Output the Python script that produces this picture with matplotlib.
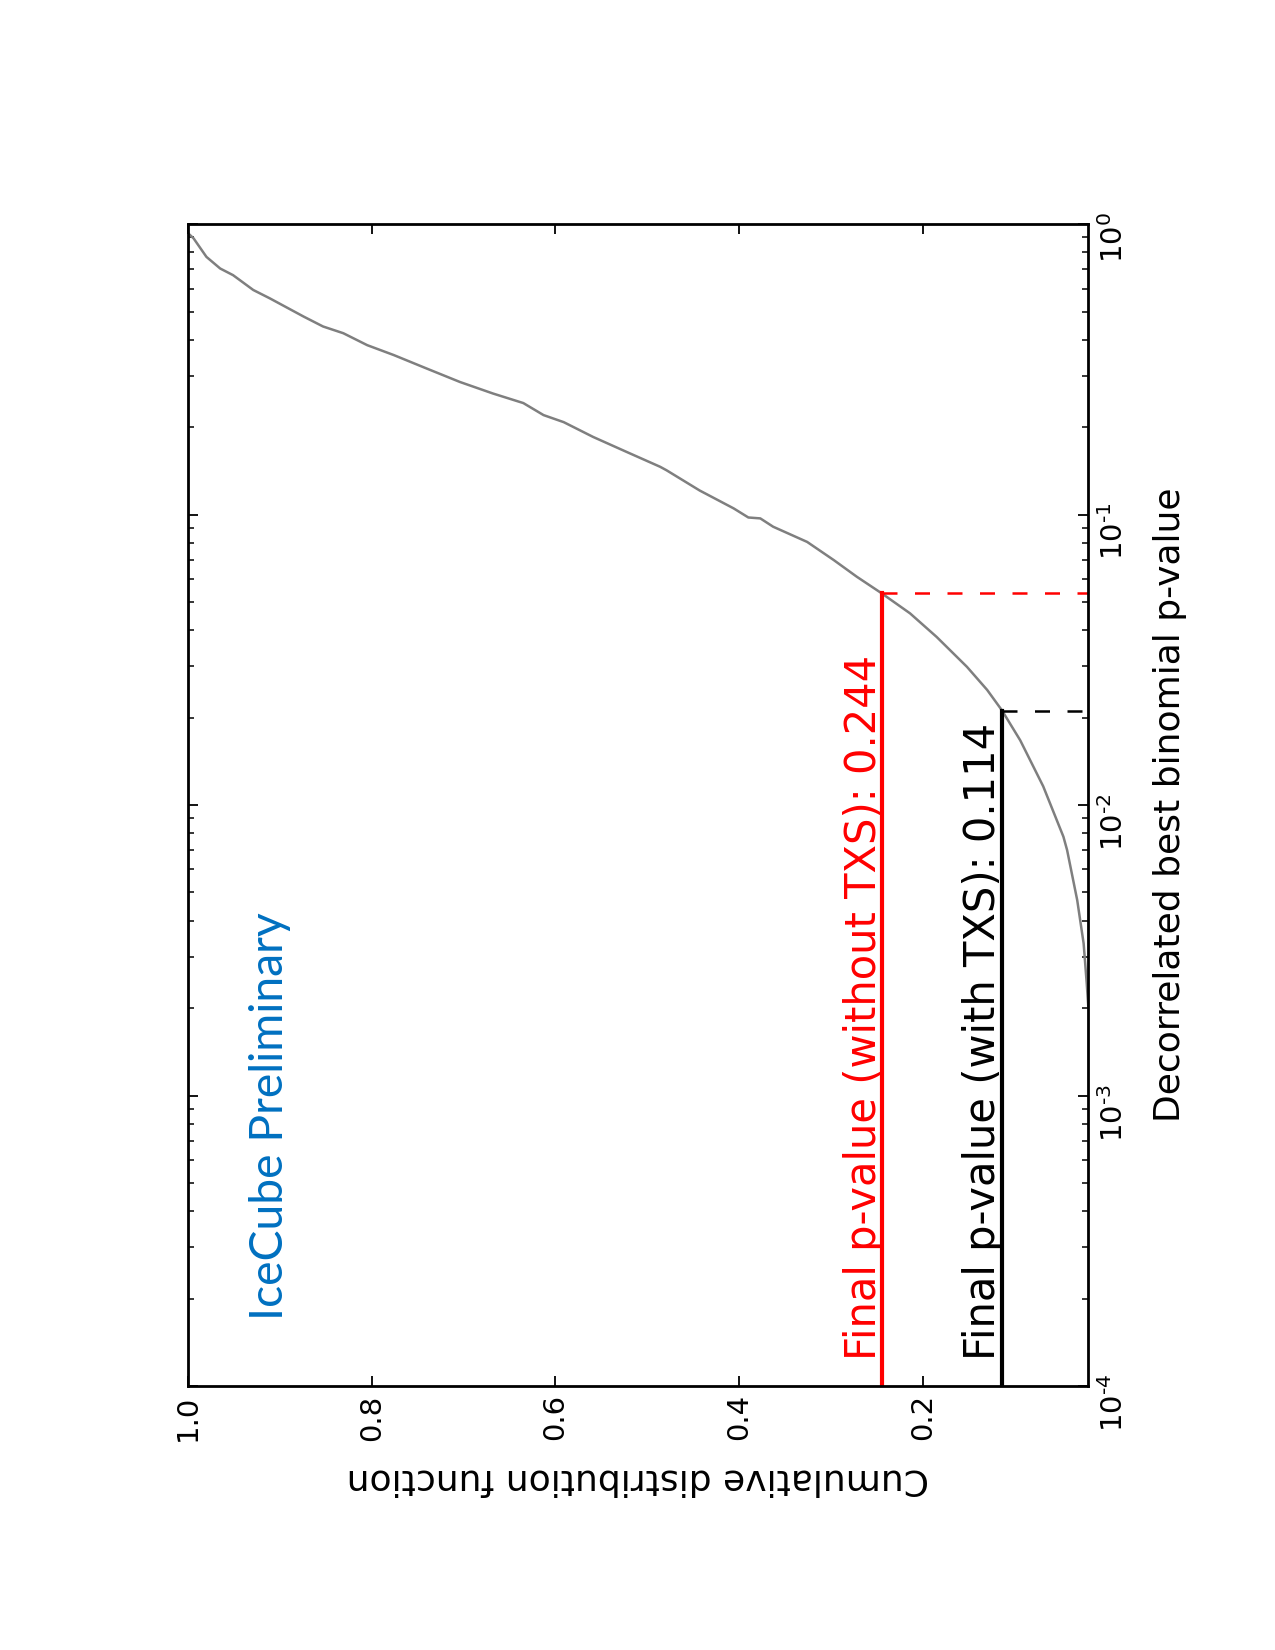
import matplotlib
matplotlib.use('Agg')
import matplotlib.pyplot as plt
from matplotlib.ticker import FuncFormatter
import numpy as np

plt.rcParams['axes.unicode_minus'] = False

# CDF of the decorrelated best binomial p-value
p_value = [0.93, 0.893, 0.771, 0.703, 0.667, 0.593, 0.555, 0.480, 0.444, 0.421,
           0.383, 0.354, 0.318, 0.286, 0.261, 0.242, 0.220, 0.208, 0.185, 0.164,
           0.146, 0.142, 0.121, 0.105, 0.0977, 0.0970, 0.0908, 0.0805, 0.0697,
           0.0611, 0.0536, 0.0457, 0.0379, 0.0299, 0.0249, 0.0212, 0.0167,
           0.0116, 0.00778, 0.00700, 0.00471, 0.00334, 0.00243, 0.00204]
cdf = [1.000, 0.994, 0.980, 0.965, 0.951, 0.929, 0.911, 0.874, 0.853, 0.831,
       0.805, 0.776, 0.740, 0.704, 0.668, 0.635, 0.613, 0.591, 0.559, 0.522,
       0.486, 0.479, 0.443, 0.406, 0.390, 0.377, 0.363, 0.326, 0.297,
       0.272, 0.245, 0.214, 0.185, 0.152, 0.130, 0.114, 0.094,
       0.069, 0.047, 0.043, 0.032, 0.025, 0.0216, 0.020]

# final p-values
final_without = 0.244
p_without = 0.0538
final_with = 0.114
p_with = 0.0210

cdf_ticks = [1.0, 0.8, 0.6, 0.4, 0.2]
cdf_ticklabels = ['1.0', '0.8', '0.6', '0.4', '0.2']


def log_label(v, pos):
    e = int(round(np.log10(v)))
    if e < 0:
        return r'$10^{\text{-}%d}$' % (-e)
    return r'$10^{%d}$' % e


fig = plt.figure(figsize=(12.75, 16.5), dpi=100)
ax = fig.add_axes([0.1475, 0.16, 0.706, 0.7042])

# the whole plot is drawn turned by 90 degrees
ax.plot(cdf, p_value, color='#7f7f7f', lw=1.8)

ax.plot([final_without, final_without], [1e-5, p_without], color='red', lw=3)
ax.plot([final_without, 0.0], [p_without, p_without], color='red', lw=1.8,
        ls=(0, (6, 7)))
ax.plot([final_with, final_with], [1e-5, p_with], color='black', lw=3)
ax.plot([final_with, 0.0], [p_with, p_with], color='black', lw=1.8,
        ls=(0, (6, 7)))

ax.text(0.251, 1.23e-4, 'Final p-value (without TXS): %.3f' % final_without,
        color='red', fontsize=30, rotation=90, rotation_mode='anchor',
        ha='left', va='baseline')
ax.text(0.1214, 1.23e-4, 'Final p-value (with TXS): %.3f' % final_with,
        color='black', fontsize=30, rotation=90, rotation_mode='anchor',
        ha='left', va='baseline')
ax.text(0.8966, 1.69e-4, 'IceCube Preliminary', color='#0070c0',
        fontsize=33.3, family='Lato', rotation=90, rotation_mode='anchor',
        ha='left', va='baseline')

ax.set_yscale('log')
ax.set_ylim(1e-4, 1)
ax.yaxis.set_major_formatter(FuncFormatter(log_label))
ax.set_xlim(1.0, 0.02)
ax.set_xticks(cdf_ticks)
ax.set_xticklabels(cdf_ticklabels)

ax.tick_params(which='both', direction='in', top=True, bottom=True,
               left=True, right=True, labelleft=False, labelright=True)
ax.tick_params(which='major', length=7, width=1.3, labelsize=21)
ax.tick_params(which='minor', length=4, width=1.1)
ax.tick_params(axis='x', labelrotation=90, pad=6)
ax.tick_params(axis='y', labelrotation=90, pad=8)
for s in ax.spines.values():
    s.set_linewidth(2)

ax.set_xlabel('Cumulative distribution function', fontsize=26, rotation=180)
ax.xaxis.set_label_coords(0.5, -0.0656)
ax.yaxis.set_label_position('right')
ax.set_ylabel('Decorrelated best binomial p-value', fontsize=26)
ax.yaxis.set_label_coords(1.072, 0.5)

fig.savefig('out.png', dpi=100)
